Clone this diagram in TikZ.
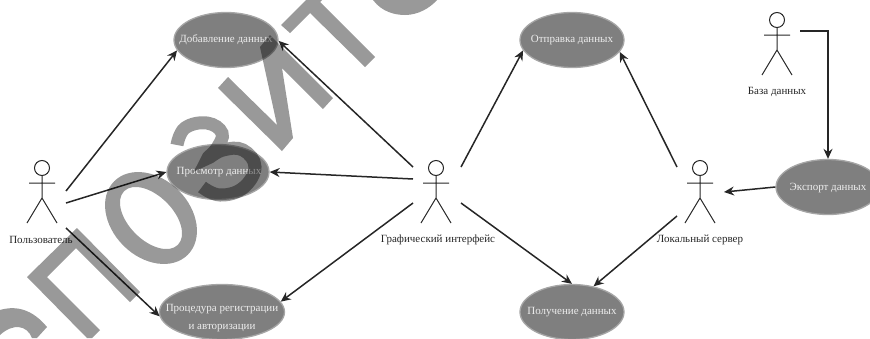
\documentclass[tikz,border=0pt]{standalone}
\usepackage{fontspec}
\setmainfont{Liberation Serif}
\usetikzlibrary{shapes.geometric,arrows.meta}
\definecolor{usefill}{HTML}{7F7F7F}
\definecolor{useedge}{HTML}{A6A6A6}
\definecolor{inkdark}{HTML}{262626}
\definecolor{markgray}{HTML}{999999}
\tikzset{
  usecase/.style={ellipse,draw=useedge,line width=1.3pt,fill=usefill,inner sep=0pt,
    minimum width=104pt,minimum height=55pt},
  usetext/.style={text=white!93!black,inner sep=0pt,align=center,font=\fontsize{11}{18}\selectfont},
  actorlabel/.style={text=inkdark,inner sep=0pt,font=\fontsize{11}{13}\selectfont},
  link/.style={draw=inkdark,line width=1.5pt,-{Stealth[length=10pt,width=9pt]}},
  actorline/.style={draw=inkdark,line width=1pt},
  mark stroke/.style={draw=markgray,blend mode=multiply,line width=13pt},
  mark fill/.style={fill=markgray,blend mode=multiply,even odd rule},
  actor/.pic={
    \draw[actorline] (0,0) circle[radius=7.5];
    \draw[actorline] (0,7.5) -- (0,30) (-13,15) -- (13,15) (-15,55) -- (0,30) -- (15,55);
  }
}
\begin{document}
\begin{tikzpicture}[x=1pt,y=-1pt]
\useasboundingbox (0,0) rectangle (870,338);
% use cases
\node[usecase] (add) at (226,40) {};
\node[usecase,minimum width=102pt] (view) at (218,172) {};
\node[usecase,minimum width=125pt] (reg) at (222,312) {};
\node[usecase] (send) at (572,40) {};
\node[usecase] (recv) at (572,312) {};
\node[usecase] (exp) at (828,187) {};
\node[usetext] (addt) at (226,40) {Добавление данных};
\node[usetext] (viewt) at (219,172) {Просмотр данных};
\node[usetext] (regt) at (222,318) {Процедура регистрации\\и авторизации};
\node[usetext] (sendt) at (572,40) {Отправка данных};
\node[usetext] (recvt) at (572,312) {Получение данных};
\node[usetext] (expt) at (828,188) {Экспорт данных};
% actors
\pic at (42,168) {actor};
\pic at (436,168) {actor};
\pic at (700,168) {actor};
\pic at (777,20) {actor};
\node[actorlabel] (luser) at (41,240) {Пользователь};
\node[actorlabel] (lgui) at (438,240) {Графический интерфейс};
\node[actorlabel] (lsrv) at (700,240) {Локальный сервер};
\node[actorlabel] (ldb) at (777,92) {База данных};
% connector ends beside the actors
\coordinate (u1) at (66,191);
\coordinate (u2) at (66,203);
\coordinate (u3) at (66,228);
\coordinate (g1) at (413,167);
\coordinate (g2) at (413,179);
\coordinate (g3) at (413,203);
\coordinate (g4) at (461,167);
\coordinate (g5) at (461,203);
\coordinate (s1) at (677,167);
\coordinate (s2) at (677,216);
\coordinate (s3) at (724,192);
\coordinate (d1) at (800,31);
% connectors
\draw[link] (u1) -- (add.192);
\draw[link] (u2) -- (view.180);
\draw[link] (u3) -- (reg.184);
\draw[link] (g1) -- (add.359);
\draw[link] (g2) -- (view.0);
\draw[link] (g3) -- (reg.10);
\draw[link] (g4) -- (send.192);
\draw[link] (g5) -- (recv.90);
\draw[link] (s1) -- (send.-14);
\draw[link] (s2) -- (recv.50);
\draw[link] (exp.180) -- (s3);
\draw[link] (d1) -| (exp.90);
% overlaid letter shapes
\fill[mark fill] (77,228) -- (140,292) -- (130,302) -- (76,248) -- (47,277) -- (100,330) -- (92,338) -- (87,338) -- (27,277) -- cycle;
\fill[mark fill] (0,310) .. controls (17,305) and (33,310) .. (47,327) -- (37,338) -- (32,338) .. controls (27,325) and (13,323) .. (0,335) -- cycle;
\fill[mark fill,rotate around={-45:(151,218)}] (151,218) ellipse[x radius=52,y radius=39] (151,218) ellipse[x radius=38,y radius=22];
\draw[mark stroke] plot[smooth,tension=.7] coordinates {(177,145) (185,128) (207,123) (222,133) (217,148) (208,158) (223,150) (243,150) (255,167) (243,188) (220,195) (202,187)};
\fill[mark fill] (218,88) -- (228,77) -- (277,125) -- (260,47) -- (270,35) -- (333,98) -- (323,109) -- (282,68) -- (293,138) -- (282,151) -- cycle;
\fill[mark fill] (281,25) -- (306,0) -- (322,0) -- (320,2) -- (375,57) -- (365,67) -- (310,13) -- (290,33) -- cycle;
\fill[mark fill] (373,0) .. controls (382,12) and (395,15) .. (405,15) .. controls (418,15) and (430,8) .. (437,0) -- cycle;
\end{tikzpicture}
\end{document}
